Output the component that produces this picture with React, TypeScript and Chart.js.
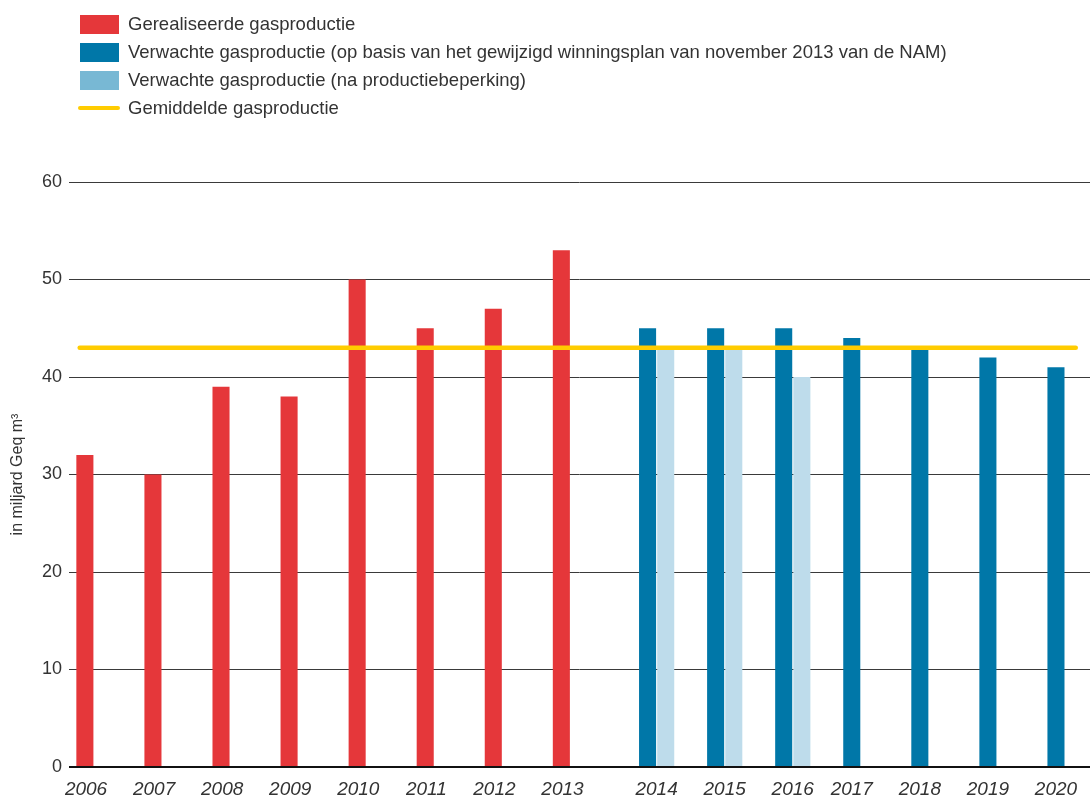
import React, { useEffect, useRef } from "react";
import { Chart, registerables } from "chart.js";

Chart.register(...registerables);

const years = [2006, 2007, 2008, 2009, 2010, 2011, 2012, 2013, 2014, 2015, 2016, 2017, 2018, 2019, 2020];
const realisedYears = [2006, 2007, 2008, 2009, 2010, 2011, 2012, 2013];
const realised = [32, 30, 39, 38, 50, 45, 47, 53];
const plannedYears = [2014, 2015, 2016, 2017, 2018, 2019, 2020];
const planned = [45, 45, 45, 44, 43, 42, 41];
const restrictedYears = [2014, 2015, 2016];
const restricted = [43, 43, 40];
const averageProduction = 43;
const yTicks = [0, 10, 20, 30, 40, 50, 60];

const legendLabels = [
  "Gerealiseerde gasproductie",
  "Verwachte gasproductie (op basis van het gewijzigd winningsplan van november 2013 van de NAM)",
  "Verwachte gasproductie (na productiebeperking)",
  "Gemiddelde gasproductie",
];

const RED = "#E5373A";
const DARK = "#0077A8";
const LIGHT_BAR = "#BEDCEB";
const LIGHT_SWATCH = "#78B8D4";
const YELLOW = "#FFCC00";
const FONT = "'Liberation Sans', Arial, sans-serif";

const PAD_TOP = 182;
const Y_AXIS_W = 69;
const X_AXIS_H = 32;
const LABEL_AXES = ["xRealised", "xRestricted"];

function pick(src: number[], srcYears: number[]) {
  return years.map((y) => {
    const i = srcYears.indexOf(y);
    return i >= 0 ? src[i] : null;
  });
}

// label axis: shows only labels for the given year group, shifted under its bars
function labelAxis(group: (y: number) => boolean, labelOffset: number, weight: number, height: number) {
  return {
    type: "category" as const,
    position: "bottom" as const,
    weight,
    grid: { display: false, drawTicks: false },
    border: { display: false },
    ticks: {
      font: { family: FONT, size: 19, style: "italic" as const },
      color: "#333",
      padding: 11,
      autoSkip: false,
      maxRotation: 0,
      labelOffset,
      callback: (_v: any, i: number) => (group(years[i]) ? String(years[i]) : ""),
    },
    afterFit: (s: any) => {
      s.height = height;
    },
  };
}

const alignLabelAxes = {
  id: "alignLabelAxes",
  afterLayout(chart: any) {
    const main = chart.scales.x;
    for (const id of LABEL_AXES) {
      const s = chart.scales[id];
      if (!s) continue;
      s.top = main.top;
      s.bottom = main.bottom;
      s.height = main.bottom - main.top;
    }
  },
};

export default function App() {
  const ref = useRef<HTMLCanvasElement | null>(null);
  const overlayRef = useRef<HTMLCanvasElement | null>(null);

  useEffect(() => {
    if (!ref.current || !overlayRef.current) return;
    const barCommon = {
      categoryPercentage: 0.8,
      barPercentage: 0.94,
      borderWidth: 0,
    };
    const chart = new Chart(ref.current, {
      type: "bar",
      data: {
        labels: years.map(String),
        datasets: [
          { ...barCommon, label: legendLabels[0], data: pick(realised, realisedYears), backgroundColor: RED },
          { ...barCommon, label: legendLabels[1], data: pick(planned, plannedYears), backgroundColor: DARK },
          { ...barCommon, label: legendLabels[2], data: pick(restricted, restrictedYears), backgroundColor: LIGHT_BAR },
        ],
      },
      plugins: [alignLabelAxes],
      options: {
        animation: false,
        responsive: true,
        maintainAspectRatio: false,
        layout: { padding: { top: PAD_TOP, left: 0, right: 0, bottom: 0 } },
        plugins: { legend: { display: false }, tooltip: { enabled: false } },
        scales: {
          x: labelAxis((y) => plannedYears.includes(y) && !restrictedYears.includes(y), 0, 2, X_AXIS_H),
          xRealised: labelAxis((y) => realisedYears.includes(y), -17, 0, 0),
          xRestricted: labelAxis((y) => restrictedYears.includes(y), 9, 1, 0),
          y: {
            min: yTicks[0],
            max: yTicks[yTicks.length - 1],
            afterBuildTicks: (s: any) => {
              s.ticks = yTicks.map((v) => ({ value: v }));
            },
            grid: {
              drawTicks: false,
              color: (c: any) => (c.tick && c.tick.value === 0 ? "#111" : "#3a3a3a"),
              lineWidth: (c: any) => (c.tick && c.tick.value === 0 ? 2 : 1),
            },
            border: { display: false },
            ticks: {
              font: { family: FONT, size: 18 },
              color: "#333",
              padding: 7,
            },
            title: {
              display: true,
              text: "in miljard Geq m³",
              font: { family: FONT, size: 16 },
              color: "#333",
              padding: { top: 8, bottom: 0 },
            },
            afterFit: (s: any) => {
              s.width = Y_AXIS_W;
            },
          },
        },
      } as any,
    });

    const overlay = new Chart(overlayRef.current, {
      type: "line",
      data: {
        datasets: [
          {
            label: legendLabels[3],
            data: [
              { x: years[0], y: averageProduction },
              { x: years[years.length - 1], y: averageProduction },
            ],
            borderColor: YELLOW,
            borderWidth: 4.5,
            borderCapStyle: "round",
            pointRadius: 0,
          },
        ],
      },
      options: {
        animation: false,
        responsive: true,
        maintainAspectRatio: false,
        layout: { padding: { top: PAD_TOP, left: Y_AXIS_W, right: 0, bottom: X_AXIS_H } },
        plugins: { legend: { display: false }, tooltip: { enabled: false } },
        scales: {
          x: { type: "linear", display: false, min: 2005.85, max: 2020.2 },
          y: { display: false, min: yTicks[0], max: yTicks[yTicks.length - 1] },
        },
      },
    });

    return () => {
      chart.destroy();
      overlay.destroy();
    };
  }, []);

  const swatch = (i: number) => {
    if (i === 3) {
      return <div style={{ width: 42, height: 4, borderRadius: 2, background: YELLOW, marginLeft: -2 }} />;
    }
    const bg = i === 0 ? RED : i === 1 ? DARK : LIGHT_SWATCH;
    return <div style={{ width: 39, height: 19, background: bg }} />;
  };

  const layer: React.CSSProperties = { position: "absolute", left: 0, top: 0, width: 1090, height: 799 };

  return (
    <div style={{ position: "absolute", left: 0, top: 0, width: 1090, height: 799, overflow: "hidden", background: "#fff" }}>
      <div style={layer}>
        <canvas ref={ref} />
      </div>
      <div style={{ ...layer, pointerEvents: "none" }}>
        <canvas ref={overlayRef} />
      </div>
      <div style={{ position: "absolute", left: 80, top: 10, fontFamily: FONT, fontSize: 18.5, color: "#333" }}>
        {legendLabels.map((l, i) => (
          <div key={i} style={{ display: "flex", alignItems: "center", height: 28 }}>
            <div style={{ width: 48, display: "flex", alignItems: "center" }}>{swatch(i)}</div>
            <span style={{ whiteSpace: "nowrap" }}>{l}</span>
          </div>
        ))}
      </div>
    </div>
  );
}
